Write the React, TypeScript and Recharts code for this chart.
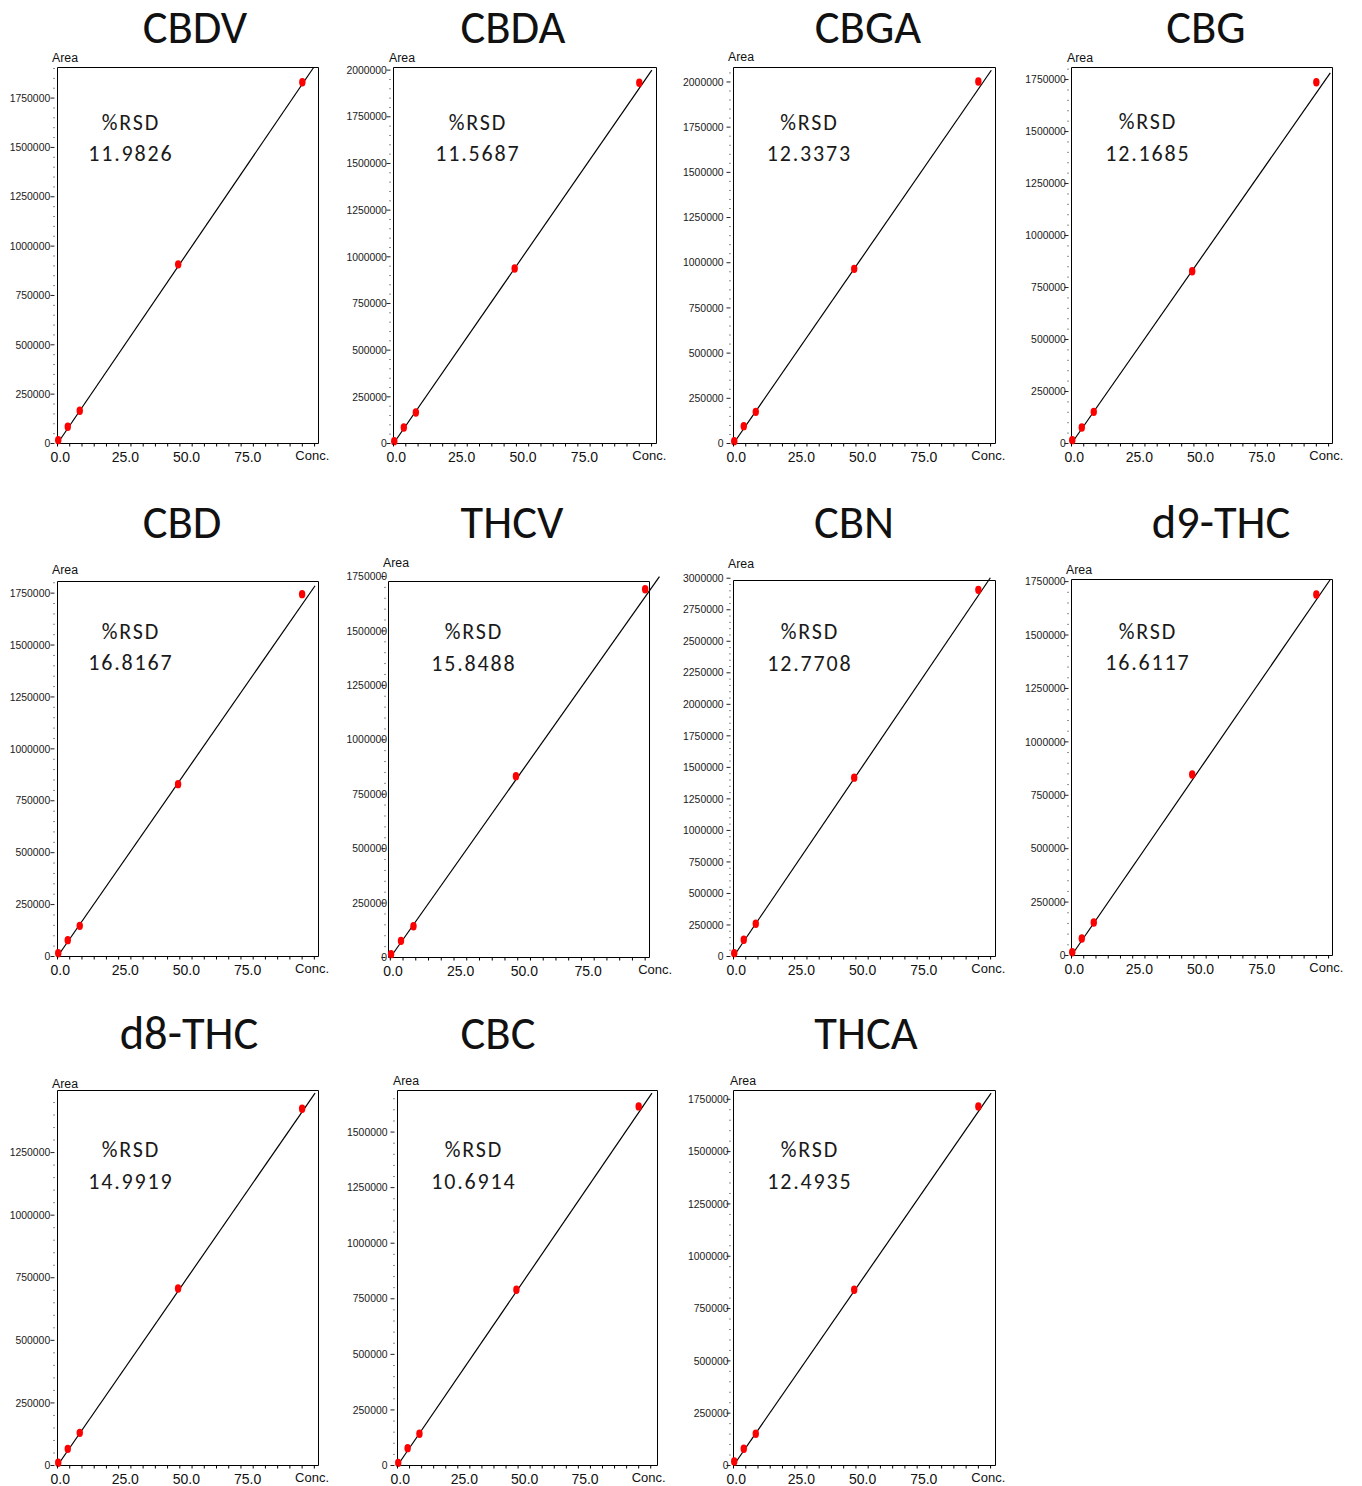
import React from 'react';
import { ScatterChart, Scatter, XAxis, YAxis, ReferenceLine, ReferenceArea } from 'recharts';

// ---------- data ----------
const compounds = ['CBDV', 'CBDA', 'CBGA', 'CBG', 'CBD', 'THCV', 'CBN', 'd9-THC', 'd8-THC', 'CBC', 'THCA'];
const rsdValues = ['11.9826', '11.5687', '12.3373', '12.1685', '16.8167', '15.8488', '12.7708', '16.6117', '14.9919', '10.6914', '12.4935'];
const concentrations = [0.3, 4.2, 9.1, 49.3, 100];

const areaCBDV = [16900, 84500, 165600, 907700, 1830600];
const areaCBDA = [12500, 85700, 166000, 937500, 1932000];
const areaCBGA = [12900, 95900, 175100, 966100, 2002200];
const areaCBG = [16000, 76900, 152200, 828500, 1737200];
const areaCBD = [16000, 78700, 147700, 830000, 1745000];
const areaTHCV = [15300, 76400, 143600, 832900, 1691600];
const areaCBN = [26500, 132600, 259800, 1418400, 2908000];
const areaD9THC = [15000, 79600, 154500, 847000, 1690000];
const areaD8THC = [10700, 66600, 130500, 707300, 1425000];
const areaCBC = [12000, 78000, 142500, 790500, 1615500];
const areaTHCA = [19100, 79700, 151400, 839700, 1716000];
const areas = [areaCBDV, areaCBDA, areaCBGA, areaCBG, areaCBD, areaTHCV, areaCBN, areaD9THC, areaD8THC, areaCBC, areaTHCA];

// calibration line end points (start at origin)
const fitEndConc = [104.6, 105.1, 105.3, 105.7, 105.3, 105.6, 104.9, 105.7, 105.3, 105.5, 105.2];
const fitEndArea = [1905000, 2000000, 2064900, 1782000, 1785500, 1749600, 3003700, 1760000, 1487700, 1675000, 1779800];

// axis ranges
const yAxisMax = [1905000, 2014000, 2080000, 1808000, 1806000, 1727000, 2982000, 1760000, 1498000, 1687000, 1792000];
const yTopLabel = [1750000, 2000000, 2000000, 1750000, 1750000, 1750000, 3000000, 1750000, 1250000, 1500000, 1750000];
const xAxisMin = [0, 0, 0, 0, 0, -0.7, 0, 0, 0, 0, 0];
const xAxisMax = [106.6, 107, 107, 106.6, 106.7, 101.7, 107, 106.6, 106.7, 107.8, 107];
const xMajorStep = 25;
const xMinorStep = 5;
const yMajorStep = 250000;
const yMinorStep = 50000;
const xEndLabel = 'Conc.';
const yTitle = 'Area';
const rsdTitle = '%RSD';

// ---------- layout ----------
const LAYOUT = [
  { L: 57, T: 67, R: 318, B: 443, gap: 7.3, aX: -5, aY: -5.5, tx: 195, ty: 25, rx: 130, ry1: 121.7, ry2: 153 },
  { L: 393, T: 67, R: 656, B: 443, gap: 6.6, aX: -4, aY: -5, tx: 513, ty: 25, rx: 477, ry1: 121.7, ry2: 153 },
  { L: 733, T: 67, R: 995, B: 443, gap: 10, aX: -5, aY: -5.6, tx: 868, ty: 25, rx: 808.5, ry1: 121.7, ry2: 153 },
  { L: 1071, T: 67, R: 1332, B: 443, gap: 5.7, aX: -4, aY: -5, tx: 1206, ty: 25, rx: 1147, ry1: 120.5, ry2: 153 },
  { L: 57, T: 581, R: 318, B: 956, gap: 7.3, aX: -5, aY: -7, tx: 182, ty: 520, rx: 130, ry1: 631, ry2: 662 },
  { L: 388, T: 581, R: 649, B: 957, gap: 1.5, aX: -5, aY: -14, tx: 512, ty: 520, rx: 473, ry1: 631, ry2: 662.5 },
  { L: 733, T: 580, R: 995, B: 956, gap: 10, aX: -5, aY: -12, tx: 854, ty: 520, rx: 809, ry1: 631, ry2: 663 },
  { L: 1071, T: 579, R: 1332, B: 955, gap: 6, aX: -5, aY: -5, tx: 1221, ty: 520, rx: 1147, ry1: 631, ry2: 662 },
  { L: 57, T: 1090, R: 318, B: 1465, gap: 7.3, aX: -5, aY: -2, tx: 189, ty: 1031, rx: 130, ry1: 1149, ry2: 1181 },
  { L: 397, T: 1090, R: 657, B: 1465, gap: 10, aX: -4, aY: -5, tx: 498, ty: 1031, rx: 473, ry1: 1149, ry2: 1181 },
  { L: 733, T: 1090, R: 995, B: 1465, gap: 5, aX: -3, aY: -5, tx: 866, ty: 1031, rx: 809, ry1: 1149, ry2: 1181 },
];

const AXIS_FONT = '"Liberation Sans", Arial, Helvetica, sans-serif';
const TEXT_FONT = 'Carlito, Calibri, Lato, "Open Sans", sans-serif';

function XTick(props: any) {
  const { x, y, payload } = props;
  const v = payload.value;
  const major = Math.abs(v % xMajorStep) < 1e-9;
  return (
    <g>
      <line x1={x} x2={x} y1={y} y2={y + 3} stroke="#000" strokeWidth={1} />
      {major && (
        <text
          x={x - 7}
          y={y + (v === 100 ? 16.5 : 18.5)}
          textAnchor="start"
          fontSize={v === 100 ? 13 : 14}
          fontFamily={AXIS_FONT}
          fill="#111"
        >
          {v === 100 ? xEndLabel : v.toFixed(1)}
        </text>
      )}
    </g>
  );
}

function YTick(props: any) {
  const { x, y, payload, gap } = props;
  const v = payload.value;
  const major = v % yMajorStep === 0;
  if (!major) {
    return <line x1={x - 4} x2={x - 3} y1={y} y2={y} stroke="#222" strokeWidth={1} />;
  }
  return (
    <g>
      <line x1={x - 7} x2={x - 3} y1={y} y2={y} stroke="#222" strokeWidth={1} />
      <text x={x - gap} y={y + 3.7} textAnchor="end" fontSize={10.4} fontFamily={AXIS_FONT} fill="#1a1a1a">
        {String(v)}
      </text>
    </g>
  );
}

function RedDot(props: any) {
  const { cx, cy } = props;
  if (cx == null || cy == null) return null;
  return <ellipse cx={cx} cy={cy} rx={3.2} ry={4.2} fill="#ff0000" />;
}

function Panel({ i }: { i: number }) {
  const lay = LAYOUT[i];
  const w = lay.R - lay.L;
  const h = lay.B - lay.T;
  const MT = 20.5, MB = 9.5, ML = 0.5, MR = 23.5, YW = 60, XH = 30;
  const data = concentrations.map((c, k) => ({ x: c, y: areas[i][k] }));
  const ymax = yAxisMax[i];
  const yt: number[] = [];
  for (let v = 0; v <= Math.max(ymax, yTopLabel[i]); v += yMinorStep) {
    const major = v % yMajorStep === 0;
    if (major ? v <= yTopLabel[i] : v <= ymax) yt.push(v);
  }
  const xt: number[] = [];
  for (let v = 0; v <= xAxisMax[i]; v += xMinorStep) xt.push(v);
  return (
    <div style={{ position: 'absolute', left: lay.L - YW, top: lay.T - 20 }}>
      <ScatterChart
        width={w + YW + ML + MR}
        height={h + MT + MB + XH}
        margin={{ top: MT, right: MR, bottom: MB, left: ML }}
      >
        <XAxis
          type="number"
          dataKey="x"
          domain={[xAxisMin[i], xAxisMax[i]]}
          ticks={xt}
          interval={0}
          tickSize={0}
          tickMargin={0}
          axisLine={false}
          tickLine={false}
          height={XH}
          tick={<XTick />}
        />
        <YAxis
          type="number"
          dataKey="y"
          domain={[0, ymax]}
          ticks={yt}
          interval={0}
          tickSize={0}
          tickMargin={0}
          axisLine={false}
          tickLine={false}
          width={YW}
          tick={<YTick gap={lay.gap} />}
        />
        <ReferenceArea
          x1={xAxisMin[i]}
          x2={xAxisMax[i]}
          y1={0}
          y2={ymax}
          fill="none"
          fillOpacity={0}
          stroke="#000"
          strokeWidth={1}
          strokeOpacity={1}
          ifOverflow="visible"
        />
        <ReferenceLine
          segment={[{ x: 0, y: 0 }, { x: fitEndConc[i], y: fitEndArea[i] }]}
          stroke="#000"
          strokeWidth={1.2}
          ifOverflow="visible"
        />
        <Scatter data={data} isAnimationActive={false} shape={<RedDot />} />
      </ScatterChart>
    </div>
  );
}

export default function App() {
  return (
    <div style={{ position: 'absolute', left: 0, top: 0, width: 1362, height: 1486, background: '#fff' }}>
      {compounds.map((name, i) => (
        <Panel key={name} i={i} />
      ))}
      <svg
        width={1362}
        height={1486}
        style={{ position: 'absolute', left: 0, top: 0, pointerEvents: 'none' }}
      >
        {compounds.map((name, i) => {
          const lay = LAYOUT[i];
          return (
            <g key={name}>
              <text x={lay.tx} y={lay.ty + 17.5} textAnchor="middle" fontSize={46.5} fontFamily={TEXT_FONT} fill="#111">
                {name}
              </text>
              <text x={lay.L + lay.aX} y={lay.T + lay.aY} fontSize={12.3} fontFamily={AXIS_FONT} fill="#111">
                {yTitle}
              </text>
              <text x={lay.rx + 0.9} y={lay.ry1 + 8} textAnchor="middle" fontSize={22} fontFamily={TEXT_FONT} fill="#1a1a1a" letterSpacing={1.8}>
                {rsdTitle}
              </text>
              <text x={lay.rx + 0.9} y={lay.ry2 + 8} textAnchor="middle" fontSize={22} fontFamily={TEXT_FONT} fill="#1a1a1a" letterSpacing={1.8}>
                {rsdValues[i]}
              </text>
            </g>
          );
        })}
      </svg>
    </div>
  );
}
